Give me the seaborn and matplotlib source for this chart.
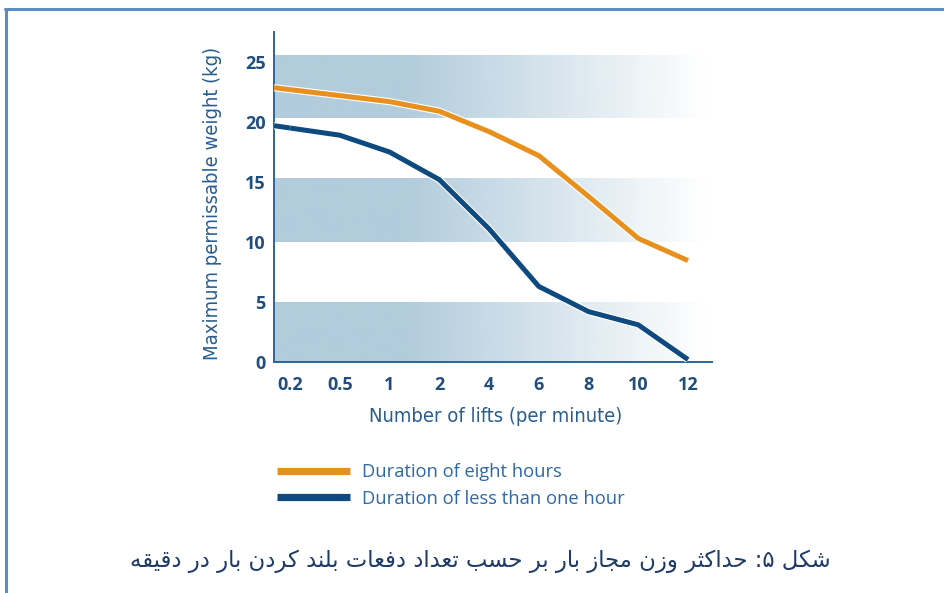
import matplotlib
matplotlib.use('Agg')
import matplotlib.pyplot as plt
import seaborn as sns
import numpy as np
import pandas as pd
from matplotlib.lines import Line2D
import matplotlib.patheffects as pe

sns.set_theme(style='white')
plt.rcParams['font.family'] = ['DejaVu Sans']

# ---------------- data ----------------
lifts = ['0.2', '0.5', '1', '2', '4', '6', '8', '10', '12']
eight_hours = [22.7, 22.2, 21.7, 20.9, 19.2, 17.2, 13.8, 10.3, 8.45]
less_than_hour = [19.5, 18.9, 17.5, 15.2, 11.1, 6.3, 4.2, 3.1, 0.2]
series_names = ['Duration of eight hours', 'Duration of less than one hour']
y_ticks = [0, 5, 10, 15, 20, 25]
band_lo = [0, 10, 20.3]
band_hi = [5, 15.3, 25.5]
x_label = 'Number of lifts (per minute)'
y_label = 'Maximum permissable weight (kg)'
caption = 'شکل ۵: حداکثر وزن مجاز بار بر حسب تعداد دفعات بلند کردن بار در دقیقه'

# ---------------- simple Arabic/Persian shaping ----------------
FORMS = {  # isolated, final, initial, medial
    'ا': ('\uFE8D', '\uFE8E', None, None),
    'ب': ('\uFE8F', '\uFE90', '\uFE91', '\uFE92'),
    'ت': ('\uFE95', '\uFE96', '\uFE97', '\uFE98'),
    'ث': ('\uFE99', '\uFE9A', '\uFE9B', '\uFE9C'),
    'ج': ('\uFE9D', '\uFE9E', '\uFE9F', '\uFEA0'),
    'ح': ('\uFEA1', '\uFEA2', '\uFEA3', '\uFEA4'),
    'د': ('\uFEA9', '\uFEAA', None, None),
    'ر': ('\uFEAD', '\uFEAE', None, None),
    'ز': ('\uFEAF', '\uFEB0', None, None),
    'س': ('\uFEB1', '\uFEB2', '\uFEB3', '\uFEB4'),
    'ش': ('\uFEB5', '\uFEB6', '\uFEB7', '\uFEB8'),
    'ع': ('\uFEC9', '\uFECA', '\uFECB', '\uFECC'),
    'ف': ('\uFED1', '\uFED2', '\uFED3', '\uFED4'),
    'ق': ('\uFED5', '\uFED6', '\uFED7', '\uFED8'),
    'ل': ('\uFEDD', '\uFEDE', '\uFEDF', '\uFEE0'),
    'م': ('\uFEE1', '\uFEE2', '\uFEE3', '\uFEE4'),
    'ن': ('\uFEE5', '\uFEE6', '\uFEE7', '\uFEE8'),
    'ه': ('\uFEE9', '\uFEEA', '\uFEEB', '\uFEEC'),
    'و': ('\uFEED', '\uFEEE', None, None),
    'ک': ('\uFB8E', '\uFB8F', '\uFB90', '\uFB91'),
    'ی': ('\uFBFC', '\uFBFD', '\uFBFE', '\uFBFF'),
}


def shape(text):
    out = []
    for i, ch in enumerate(text):
        if ch not in FORMS:
            out.append(ch)
            continue
        prev = text[i - 1] if i > 0 else ''
        nxt = text[i + 1] if i + 1 < len(text) else ''
        dual = FORMS[ch][2] is not None
        pj = prev in FORMS and FORMS[prev][2] is not None
        nj = dual and nxt in FORMS
        if pj and nj:
            out.append(FORMS[ch][3])
        elif pj:
            out.append(FORMS[ch][1])
        elif nj:
            out.append(FORMS[ch][2])
        else:
            out.append(FORMS[ch][0])
    return ''.join(out)[::-1]


# ---------------- styling ----------------
c_orange = '#E8901D'
c_blue = '#0E4A80'
c_spine = '#2A6699'
c_tick = '#1F4E7F'
c_label = '#2A5D90'
c_legend = '#2F68A6'
band_rgb = (0.70, 0.80, 0.866)

fig = plt.figure(figsize=(9.45, 5.93), dpi=100)
ax = fig.add_axes([274 / 945, 1 - 362 / 593, 438 / 945, 330 / 593])
ax.set_facecolor('white')

n = len(lifts)
pos = np.arange(n)
xl, xr = -0.3216, 8.482
yl, yt = 0, 27.5

# gradient bands
N = 400
frac = np.linspace(0, 1, N)
alpha = np.clip(1 - (frac - 0.30) / 0.69, 0, 1)
grad = np.zeros((1, N, 4))
grad[..., 0], grad[..., 1], grad[..., 2] = band_rgb
grad[..., 3] = alpha
for lo, hi in zip(band_lo, band_hi):
    ax.imshow(grad, extent=[xl, xr, lo, hi], aspect='auto', zorder=0,
              interpolation='bilinear')

df = pd.DataFrame({
    'pos': list(pos) * 2,
    'weight': eight_hours + less_than_hour,
    'series': [series_names[0]] * n + [series_names[1]] * n,
})
palette = {series_names[0]: c_orange, series_names[1]: c_blue}
sns.lineplot(data=df, x='pos', y='weight', hue='series', palette=palette,
             linewidth=3.6, legend=False, ax=ax, sort=False, zorder=3)

halo = [pe.Stroke(linewidth=5.2, foreground='white'), pe.Normal()]
for ln in ax.lines:
    ln.set_solid_capstyle('butt')
    ln.set_solid_joinstyle('round')
    ln.set_path_effects(halo)

# extend first segment to the y-axis
for vals, col in [(eight_hours, c_orange), (less_than_hour, c_blue)]:
    y0 = vals[0] + (vals[1] - vals[0]) * xl
    ax.plot([xl, 0], [y0, vals[0]], color=col, lw=3.6, solid_capstyle='butt',
            path_effects=halo, zorder=3)

ax.set_xlim(xl, xr)
ax.set_ylim(yl, yt)

ax.set_xticks(pos)
ax.set_xticklabels(lifts)
ax.set_yticks(y_ticks)
ax.set_yticklabels([str(v) for v in y_ticks])
ax.set_xticks([xr], minor=True)
ax.set_yticks([yt], minor=True)

ax.tick_params(axis='x', which='major', direction='out', length=8, width=1.6,
               color=c_spine, pad=2, labelsize=13, labelcolor=c_tick)
ax.tick_params(axis='y', which='major', length=0, pad=6, labelsize=13,
               labelcolor=c_tick)
ax.tick_params(axis='both', which='minor', direction='in', length=5, width=1.6,
               color=c_spine)
for lbl in ax.get_xticklabels() + ax.get_yticklabels():
    lbl.set_fontweight('bold')
    lbl.set_family('Open Sans')

for s in ['top', 'right']:
    ax.spines[s].set_visible(False)
for s in ['left', 'bottom']:
    ax.spines[s].set_color(c_spine)
    ax.spines[s].set_linewidth(1.4)

ax.set_xlabel(x_label, fontsize=14.5, color=c_label, family='DejaVu Sans',
              fontstretch='condensed')
ax.set_ylabel(y_label, fontsize=14.5, color=c_label, family='DejaVu Sans',
              fontstretch='condensed')
ax.xaxis.set_label_coords(0.505, -0.137)
ax.yaxis.set_label_coords(-0.119, 0.48)

# legend
handles = [Line2D([], [], color=c_orange, lw=5.2, solid_capstyle='butt'),
           Line2D([], [], color=c_blue, lw=5.2, solid_capstyle='butt')]
leg = fig.legend(handles, series_names, loc='upper left',
                 bbox_to_anchor=(277 / 945, 1 - 463 / 593), frameon=False,
                 handlelength=4.0, handletextpad=0.62,
                 labelspacing=0.48, borderpad=0, borderaxespad=0,
                 prop={'family': 'Open Sans', 'size': 13.2})
for t in leg.get_texts():
    t.set_color(c_legend)

# caption
fig.text(480 / 945, 1 - 561 / 593, shape(caption), ha='center', va='center',
         fontsize=16.4, color='#1F3A66', family='DejaVu Sans')

# frame
fc = '#5B8BC8'
fig.add_artist(Line2D([5 / 945, 1], [1 - 9 / 593] * 2, transform=fig.transFigure,
                      color=fc, lw=2.2))
fig.add_artist(Line2D([6 / 945] * 2, [0, 1 - 9 / 593], transform=fig.transFigure,
                      color=fc, lw=2.2))

fig.savefig('out.png', dpi=100, facecolor='white')
